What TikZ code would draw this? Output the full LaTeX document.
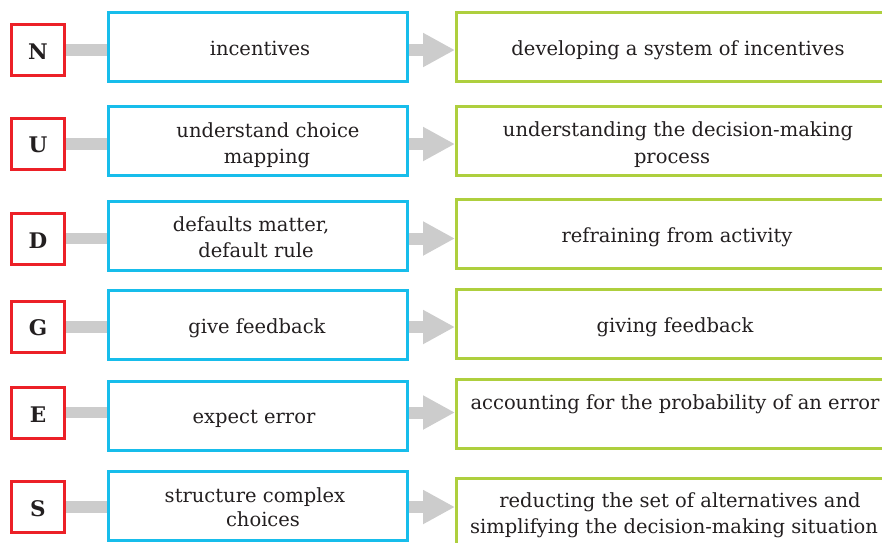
\documentclass[tikz,border=0pt]{standalone}
\usepackage{fontspec}
\setmainfont{DejaVu Serif}
\usetikzlibrary{arrows.meta}
\definecolor{nred}{HTML}{EC2027}
\definecolor{nblue}{HTML}{17BDEB}
\definecolor{ngreen}{HTML}{AECF3E}
\definecolor{ngray}{HTML}{CCCCCC}
\definecolor{ntext}{HTML}{231F20}
\begin{document}
\begin{tikzpicture}[x=1pt,y=-1pt,
  letterbox/.style={draw=nred, line width=3pt, minimum width=53pt, minimum height=51pt, inner sep=0pt},
  bluebox/.style={draw=nblue, line width=3pt, minimum width=299pt, minimum height=69pt, inner sep=0pt},
  greenbox/.style={draw=ngreen, line width=3pt, minimum width=442pt, minimum height=69pt, inner sep=0pt},
  txt/.style={anchor=base, inner sep=0pt, text=ntext, font=\fontsize{19.5}{22}\selectfont},
  ltr/.style={anchor=base, inner sep=0pt, text=ntext, font=\fontsize{21.5}{24}\selectfont\bfseries},
  bar/.style={draw=ngray, line width=11.5pt},
  arr/.style={draw=ngray, line width=12pt, -{Triangle[length=32pt,width=32pt]}}
]
\useasboundingbox (0,0) rectangle (882,542);
\clip (0,0) rectangle (882,542);

% red letter boxes
\node[letterbox] (r1) at (38,50) {};
\node[letterbox] (r2) at (38,144) {};
\node[letterbox] (r3) at (38,238.5) {};
\node[letterbox] (r4) at (38,327) {};
\node[letterbox] (r5) at (38,412.5) {};
\node[letterbox] (r6) at (38,507) {};

% blue boxes
\node[bluebox] (b1) at (258,47) {};
\node[bluebox] (b2) at (258,140.5) {};
\node[bluebox] (b3) at (258,235.5) {};
\node[bluebox] (b4) at (258,325) {};
\node[bluebox] (b5) at (258,416) {};
\node[bluebox] (b6) at (258,505.5) {};

% green boxes
\node[greenbox] (g1) at (677.5,47) {};
\node[greenbox] (g2) at (677.5,140.5) {};
\node[greenbox] (g3) at (677.5,234) {};
\node[greenbox] (g4) at (677.5,324) {};
\node[greenbox] (g5) at (677.5,414) {};
\node[greenbox] (g6) at (677.5,513) {};

% connectors
\foreach \i in {1,...,6}{
  \draw[bar] (r\i.east) -- (r\i.east -| b\i.west);
  \draw[arr] (r\i -| b\i.east) -- (r\i -| g\i.west);
}

% letters
\node[ltr] (l1) at (38,59) {N};
\node[ltr] (l2) at (38,152.7) {U};
\node[ltr] (l3) at (38,248) {D};
\node[ltr] (l4) at (38,335.7) {G};
\node[ltr] (l5) at (38,422.7) {E};
\node[ltr] (l6) at (38,516.7) {S};

% blue texts
\node[txt] (t1) at (260,55) {incentives};
\node[txt] (t2a) at (268,137) {understand choice};
\node[txt] (t2b) at (267,163) {mapping};
\node[txt] (t3a) at (251,231) {defaults matter,};
\node[txt] (t3b) at (256,257) {default rule};
\node[txt] (t4) at (257,333) {give feedback};
\node[txt] (t5) at (254,423) {expect error};
\node[txt] (t6a) at (255,502) {structure complex};
\node[txt] (t6b) at (263,526) {choices};

% green texts
\node[txt] (u1) at (678,55) {developing a system of incentives};
\node[txt] (u2a) at (678,136) {understanding the decision-making};
\node[txt] (u2b) at (672,163) {process};
\node[txt] (u3) at (677,242) {refraining from activity};
\node[txt] (u4) at (675,332) {giving feedback};
\node[txt] (u5) at (675,409) {accounting for the probability of an error};
\node[txt] (u6a) at (680,507) {reducting the set of alternatives and};
\node[txt] (u6b) at (674,533) {simplifying the decision-making situation};
\end{tikzpicture}
\end{document}
